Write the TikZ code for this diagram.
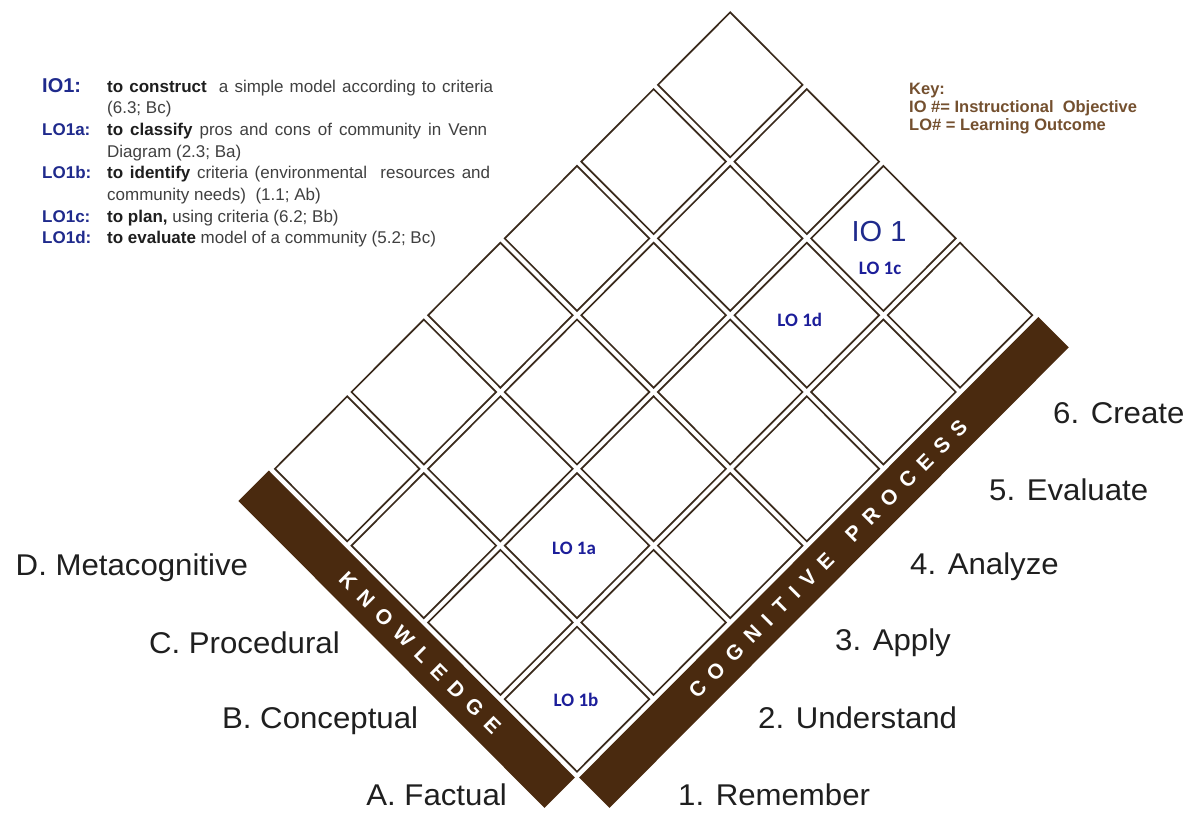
\documentclass[tikz,border=0pt]{standalone}
\usepackage{fontspec}
\setmainfont{Liberation Sans}
\newfontfamily\axisfont{Liberation Sans}[FakeStretch=1.04]
\newfontfamily\calibfont{Carlito}
\usetikzlibrary{calc}

\definecolor{barbrown}{HTML}{4A2A0F}
\definecolor{cellline}{HTML}{3A2A1C}
\definecolor{navy}{HTML}{1F2A8C}
\definecolor{cellblue}{HTML}{1C1E9A}
\definecolor{keybrown}{HTML}{74502F}
\definecolor{bodygray}{HTML}{404040}
\definecolor{verbdark}{HTML}{1E1E1E}

% letter tracking used on the two axis bars
\newcommand\tk{\kern 10pt}

\begin{document}
\begin{tikzpicture}[x=1pt,y=-1pt,
  cellbox/.style={draw=cellline, line width=1.7pt, fill=white, line join=miter},
  cellmark/.style={inner sep=0pt, text=cellblue, font=\calibfont\bfseries\fontsize{19}{19}\selectfont},
  bigmark/.style={inner sep=0pt, text=navy, font=\fontsize{29}{29}\selectfont},
  barword/.style={inner sep=0pt, text=white, font=\bfseries\fontsize{21}{21}\selectfont},
  axisleft/.style={anchor=base east, inner sep=0pt, text=black!88, font=\axisfont\fontsize{30}{30}\selectfont},
  axisright/.style={anchor=base west, inner sep=0pt, text=black!88, font=\axisfont\fontsize{30}{30}\selectfont},
  objtag/.style={anchor=base west, inner sep=0pt, text=navy, font=\bfseries\fontsize{17}{21.7}\selectfont},
  objtext/.style={anchor=base west, inner sep=0pt, text=bodygray, font=\fontsize{17}{21.7}\selectfont},
  keyline/.style={anchor=base west, inner sep=0pt, text=keybrown, font=\bfseries\fontsize{16.5}{18}\selectfont}
]
\useasboundingbox (0,0) rectangle (1188,812);
\fill[white] (0,0) rectangle (1188,812);

% lattice corners of the 4 x 6 grid
\coordinate (B) at (577,776);
\coordinate (L) at (270.6,468.8);
\coordinate (R) at (1036.6,315.2);

% the two axis bars
\fill[barbrown] ($(B)+(-2.12,1.41)$) -- ($(B)+(-32.53,31.82)$)
  -- ($(L)+(-32.17,32.17)$) -- ($(L)+(-1.77,1.77)$) -- cycle;
\fill[barbrown] ($(B)+(2.12,1.41)$) -- ($(B)+(32.53,31.82)$)
  -- ($(R)+(32.17,32.17)$) -- ($(R)+(1.77,1.77)$) -- cycle;

\node[barword, rotate=-45] (knowledge) at (420,652.9)
  {K\tk N\tk O\tk W\tk L\tk E\tk D\tk G\tk E};
\node[barword, rotate=45] (cognitive) at (828,559)
  {C\tk O\tk G\tk N\tk I\tk T\tk I\tk V\tk E\tk\ \tk P\tk R\tk O\tk C\tk E\tk S\tk S};

% grid cells: k = knowledge row, c = cognitive column
\foreach \k in {0,...,3}{
  \foreach \c in {0,...,5}{
    \pgfmathsetmacro\cx{577+(\c-\k)*76.6}
    \pgfmathsetmacro\cy{776-(\c+\k+1)*76.8}
    \coordinate (cell-\k-\c) at (\cx,\cy);
    \path[cellbox] (cell-\k-\c) ++(-72.3,0) -- ++(72.3,-72.5) -- ++(72.3,72.5)
      -- ++(-72.3,72.5) -- cycle;
  }
}

% objectives placed in the grid
\node[bigmark] (io-one) at ($(cell-1-5)+(-4.4,-6.4)$) {IO 1};
\node[cellmark] (lo-c) at ($(cell-1-5)+(-3.4,29.6)$) {LO 1c};
\node[cellmark] (lo-d) at ($(cell-1-4)+(-7,5)$) {LO 1d};
\node[cellmark] (lo-a) at ($(cell-1-1)+(-3,2.4)$) {LO 1a};
\node[cellmark] (lo-b) at ($(cell-0-0)+(-1,1)$) {LO 1b};

% knowledge dimension labels
\node[axisleft] (kd) at (248.3,575) {D. Metacognitive};
\node[axisleft] (kc) at (340,653) {C. Procedural};
\node[axisleft] (kb) at (418.3,728) {B. Conceptual};
\node[axisleft] (ka) at (507,805) {A. Factual};

% cognitive process labels
\node[axisright] (c6) at (1053,423) {6. Create};
\node[axisright] (c5) at (989,500) {5. Evaluate};
\node[axisright] (c4) at (910,574) {4. Analyze};
\node[axisright] (c3) at (835,650) {3. Apply};
\node[axisright] (c2) at (758,728) {2. Understand};
\node[axisright] (c1) at (678,805) {1. Remember};

% list of objectives
\node[objtag, font=\bfseries\fontsize{20}{21.7}\selectfont] (io-tag) at (42,92) {IO1:};
\node[objtext] (io-txt) at (107,92) {\parbox[t]{386pt}{\textcolor{verbdark}{\bfseries to construct}\ \ a simple model according to criteria\linebreak (6.3; Bc)}};
\node[objtag] (loa-tag) at (42,135.3) {LO1a:};
\node[objtext] (loa-txt) at (107,135.3) {\parbox[t]{380pt}{\textcolor{verbdark}{\bfseries to classify} pros and cons of community in Venn\linebreak Diagram (2.3; Ba)}};
\node[objtag] (lob-tag) at (42,178.7) {LO1b:};
\node[objtext] (lob-txt) at (107,178.7) {\parbox[t]{383pt}{\textcolor{verbdark}{\bfseries to identify} criteria (environmental\ \ resources and\linebreak community needs)\ \ (1.1; Ab)}};
\node[objtag] (loc-tag) at (42,222) {LO1c:};
\node[objtext] (loc-txt) at (107,222) {\textcolor{verbdark}{\bfseries to plan,} using criteria (6.2; Bb)};
\node[objtag] (lod-tag) at (42,243.7) {LO1d:};
\node[objtext] (lod-txt) at (107,243.7) {\textcolor{verbdark}{\bfseries to evaluate} model of a community (5.2; Bc)};

% key
\node[keyline] (key-head) at (909,94) {Key:};
\node[keyline] (key-io) at (909,112) {IO \#= Instructional\ \ Objective};
\node[keyline] (key-lo) at (909,130) {LO\# = Learning Outcome};
\end{tikzpicture}
\end{document}
